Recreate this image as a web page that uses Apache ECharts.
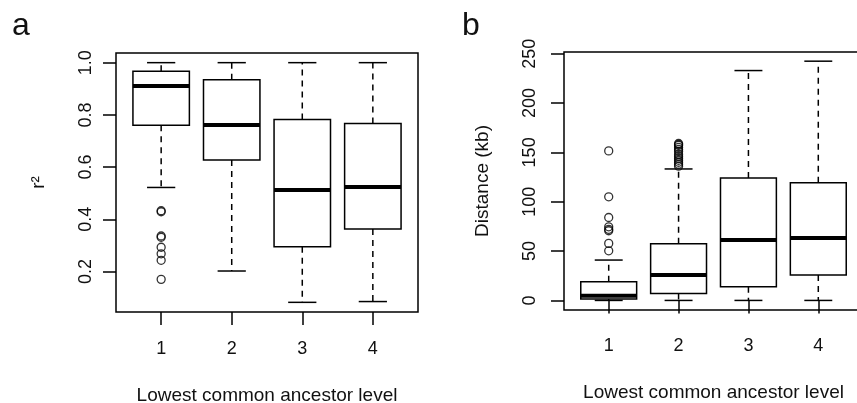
<!DOCTYPE html>
<html>
<head>
<meta charset="utf-8">
<style>
  html, body { margin: 0; padding: 0; background: #fff; }
  #chart { width: 857px; height: 403px; }
</style>
<script src="https://cdn.jsdelivr.net/npm/echarts@6/dist/echarts.min.js"></script>
</head>
<body>
<div id="chart"></div>
<script>
const levels = [1, 2, 3, 4]

// each row: [level, lower whisker, Q1, median, Q3, upper whisker]
const r2Boxes = [
  [1, 0.522, 0.760, 0.911, 0.967, 1.0],
  [2, 0.202, 0.627, 0.761, 0.935, 1.0],
  [3, 0.082, 0.295, 0.512, 0.782, 1.0],
  [4, 0.085, 0.363, 0.524, 0.767, 1.0]
]
const r2OutliersL1 = [0.433, 0.429, 0.336, 0.331, 0.293, 0.268, 0.243, 0.170]

const distBoxes = [
  [1, 0, 1.5, 4.8, 18.9, 40.9],
  [2, 0, 7.1, 25.7, 57.4, 133.2],
  [3, 0, 13.8, 61.2, 124.0, 232.9],
  [4, 0, 25.7, 63.2, 119.3, 242.4]
]
const distOutliersL1 = [151.5, 105, 84, 74.6, 72, 70.6, 57.8, 50.3]
const distOutliersL2 = [136, 138, 140, 142, 144, 146, 148, 151, 153, 155, 157, 158, 159]

const r2Ticks = [0.2, 0.4, 0.6, 0.8, 1.0]
const distTicks = [0, 50, 100, 150, 200, 250]

const FONT = "'Liberation Sans', Arial, sans-serif"
const chart = echarts.init(document.getElementById('chart'))

function renderBox(params, api) {
  const x = api.value(0)
  const lo = api.coord([x, api.value(1)])
  const q1 = api.coord([x, api.value(2)])
  const med = api.coord([x, api.value(3)])
  const q3 = api.coord([x, api.value(4)])
  const hi = api.coord([x, api.value(5)])
  const half = api.size([0.8, 0])[0] / 2
  const cx = lo[0]
  const solid = { stroke: '#000', lineWidth: 1.5, fill: null }
  const dashed = { stroke: '#000', lineWidth: 1.5, lineDash: [6, 5], fill: null }
  return {
    type: 'group',
    children: [
      { type: 'line', shape: { x1: cx, y1: q3[1], x2: cx, y2: hi[1] }, style: dashed },
      { type: 'line', shape: { x1: cx, y1: q1[1], x2: cx, y2: lo[1] }, style: dashed },
      { type: 'line', shape: { x1: cx - half / 2, y1: hi[1], x2: cx + half / 2, y2: hi[1] }, style: solid },
      { type: 'line', shape: { x1: cx - half / 2, y1: lo[1], x2: cx + half / 2, y2: lo[1] }, style: solid },
      { type: 'rect', shape: { x: cx - half, y: q3[1], width: half * 2, height: q1[1] - q3[1] },
        style: { stroke: '#000', lineWidth: 1.5, fill: '#fff' } },
      { type: 'line', shape: { x1: cx - half, y1: med[1], x2: cx + half, y2: med[1] },
        style: { stroke: '#000', lineWidth: 4 } }
    ]
  }
}

function xAxisFor(gridIndex, labelMargin, nameGap) {
  return {
    type: 'value',
    gridIndex: gridIndex,
    min: 0.36,
    max: 4.64,
    name: 'Lowest common ancestor level',
    nameLocation: 'middle',
    nameGap: nameGap,
    nameTextStyle: { fontFamily: FONT, fontSize: 19, color: '#111' },
    axisLine: { show: false },
    splitLine: { show: false },
    axisTick: { length: 13, customValues: levels, lineStyle: { color: '#000', width: 1.5 } },
    axisLabel: { customValues: levels, margin: labelMargin, fontFamily: FONT, fontSize: 18, color: '#111' }
  }
}

function yAxisFor(gridIndex, name, nameGap, min, max, ticks, labelMargin, fmt) {
  return {
    type: 'value',
    gridIndex: gridIndex,
    min: min,
    max: max,
    name: name,
    nameLocation: 'middle',
    nameGap: nameGap,
    nameTextStyle: { fontFamily: FONT, fontSize: 19, color: '#111' },
    axisLine: { show: false },
    splitLine: { show: false },
    axisTick: { length: 13, customValues: ticks, lineStyle: { color: '#000', width: 1.5 } },
    axisLabel: {
      customValues: ticks, rotate: 90, margin: labelMargin,
      fontFamily: FONT, fontSize: 18, color: '#111',
      formatter: fmt
    }
  }
}

function outlierSeries(axisIndex, level, values) {
  return {
    type: 'scatter',
    xAxisIndex: axisIndex,
    yAxisIndex: axisIndex,
    symbol: 'circle',
    symbolSize: 8,
    itemStyle: { color: 'rgba(0,0,0,0)', borderColor: '#000', borderWidth: 1.3 },
    data: values.map(v => [level, v]),
    z: 3
  }
}

chart.setOption({
  animation: false,
  backgroundColor: '#fff',
  title: [
    { text: 'a', left: 7, top: 5, textStyle: { fontFamily: FONT, fontSize: 32, fontWeight: 'normal', color: '#111' } },
    { text: 'b', left: 457, top: 5, textStyle: { fontFamily: FONT, fontSize: 32, fontWeight: 'normal', color: '#111' } }
  ],
  grid: [
    { left: 116, top: 53, width: 302, height: 259, show: true, borderColor: '#000', borderWidth: 1.5,
      containLabel: false, outerBoundsMode: 'none' },
    { left: 564, top: 52, width: 299, height: 258, show: true, borderColor: '#000', borderWidth: 1.5,
      containLabel: false, outerBoundsMode: 'none' }
  ],
  xAxis: [xAxisFor(0, 28, 74), xAxisFor(1, 27, 73)],
  yAxis: [
    yAxisFor(0, 'r²', 68, 0.045, 1.037, r2Ticks, 21, v => v.toFixed(1)),
    yAxisFor(1, 'Distance (kb)', 72, -9.7, 251.7, distTicks, 25, v => String(v))
  ],
  series: [
    {
      type: 'custom',
      xAxisIndex: 0,
      yAxisIndex: 0,
      renderItem: renderBox,
      encode: { x: 0, y: [1, 2, 3, 4, 5] },
      data: r2Boxes,
      z: 2
    },
    outlierSeries(0, 1, r2OutliersL1),
    {
      type: 'custom',
      xAxisIndex: 1,
      yAxisIndex: 1,
      renderItem: renderBox,
      encode: { x: 0, y: [1, 2, 3, 4, 5] },
      data: distBoxes,
      z: 2
    },
    outlierSeries(1, 1, distOutliersL1),
    outlierSeries(1, 2, distOutliersL2)
  ]
})
</script>
</body>
</html>
